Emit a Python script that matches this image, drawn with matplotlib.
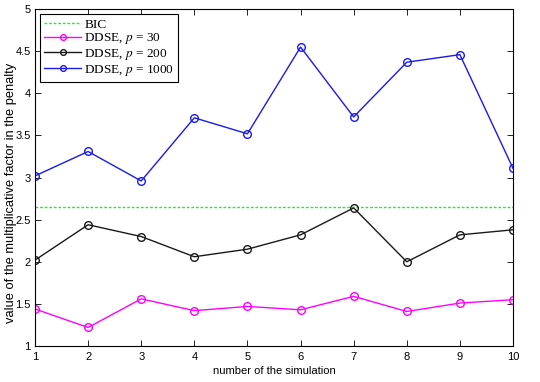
import matplotlib
matplotlib.use("Agg")
import matplotlib.pyplot as plt

# data
sim = [1, 2, 3, 4, 5, 6, 7, 8, 9, 10]
bic = 2.65
ddse_30 = [1.44, 1.22, 1.56, 1.42, 1.47, 1.43, 1.59, 1.41, 1.51, 1.55]
ddse_200 = [2.02, 2.44, 2.30, 2.06, 2.15, 2.32, 2.64, 2.00, 2.32, 2.38]
ddse_1000 = [3.02, 3.31, 2.96, 3.71, 3.52, 4.55, 3.72, 4.37, 4.46, 3.11]

plt.rcParams['font.family'] = ['Liberation Sans', 'DejaVu Sans']
plt.rcParams['mathtext.fontset'] = 'stix'

fig = plt.figure(figsize=(5.4, 3.82), dpi=100)
ax = fig.add_axes([0.0648, 0.0942, 0.8852, 0.8818])

ax.plot([sim[0], sim[-1]], [bic, bic], '--', color='#22ee22', lw=1, dashes=(2, 1.3), label='BIC')
ax.plot(sim, ddse_30, '-o', color='#ff00ff', lw=1, ms=5.5, mfc='none', label='DDSE, $p$ = 30')
ax.plot(sim, ddse_200, '-o', color='#1a1a1a', lw=1, ms=5.5, mfc='none', label='DDSE, $p$ = 200')
ax.plot(sim, ddse_1000, '-o', color='#1a1aee', lw=1, ms=5.5, mfc='none', label='DDSE, $p$ = 1000')

ax.set_xlim(1, 10)
ax.set_ylim(1, 5)
ax.set_xticks(sim)
ax.set_yticks([1, 1.5, 2, 2.5, 3, 3.5, 4, 4.5, 5])
ax.set_yticklabels(['1', '1.5', '2', '2.5', '3', '3.5', '4', '4.5', '5'])
ax.tick_params(direction='in', top=True, right=True, labelsize=8, length=4, width=0.6)
ax.tick_params(axis='y', pad=3)
ax.tick_params(axis='x', pad=4)
for s in ax.spines.values():
    s.set_linewidth(0.8)

ax.set_xlabel('number of the simulation', fontsize=8, labelpad=3)
ax.set_ylabel('value of the multiplicative factor in the penalty', fontsize=9.3)
ax.yaxis.set_label_coords(-0.038, 0.455)

leg = ax.legend(loc='upper left', fancybox=False, edgecolor='black',
                framealpha=1, borderpad=0.3, labelspacing=0.05, handlelength=2.8,
                handletextpad=0.25, borderaxespad=0.4, markerscale=0.75,
                prop={'family': 'Liberation Serif', 'size': 9.5})
leg.get_frame().set_linewidth(0.8)

fig.savefig('out.png', dpi=100)
